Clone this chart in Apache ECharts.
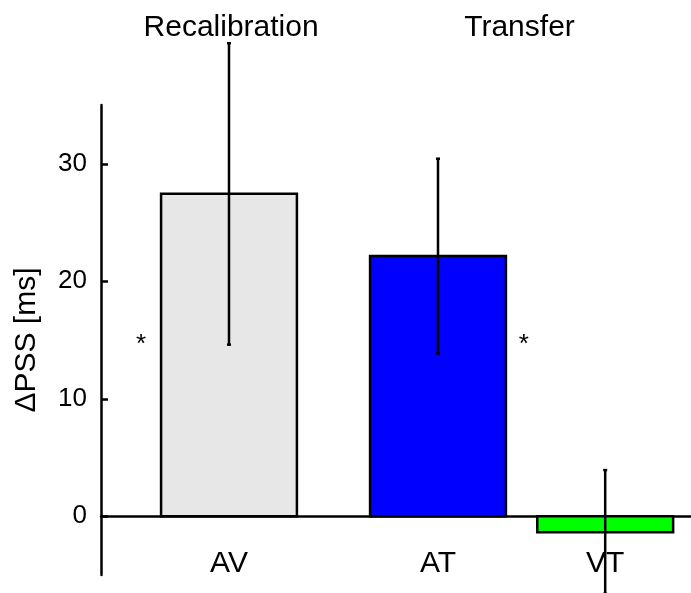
<!DOCTYPE html>
<html><head><meta charset="utf-8">
<script src="https://cdn.jsdelivr.net/npm/echarts@6/dist/echarts.min.js"></script>
<style>html,body{margin:0;padding:0;background:#fff}#c{width:691px;height:593px}</style>
</head><body><div id="c"></div>
<script>
const categories = ['AV', 'AT', 'VT'];
const positions = [1, 2, 2.8];
const means = [27.44, 22.14, -1.37];
const errLow = [14.6, 13.85, -6.6];
const errHigh = [40.26, 30.43, 3.93];
const yTicks = [0, 10, 20, 30];
const groupTitles = ['Recalibration', 'Transfer'];
const groupTitleX = [1.01, 2.39];
const groupTitleY = [41.6, 41.6];
const starX = [0.579, 2.411];
const starY = [15, 15];
const labelY = -4.0;

const barColors = ['#E6E7E6', '#0000FF', '#00FF00'];
const FONT = "'Liberation Sans', Arial, Helvetica, sans-serif";
const barWidth = 0.65;

const chart = echarts.init(document.getElementById('c'), null, {renderer: 'canvas'});

const barData = categories.map((c, i) => [positions[i], means[i], i]);
const errData = categories.map((c, i) => [positions[i], errLow[i], errHigh[i]]);
const labelData = categories.map((c, i) => [positions[i], labelY, c]);
const titleData = groupTitles.map((t, i) => [groupTitleX[i], groupTitleY[i], t]);
const starData = starX.map((x, i) => [x, starY[i], '*']);

const textSeries = (data, size, dy) => ({
  type: 'custom', clip: false, silent: true, z: 5,
  data: data,
  renderItem: (params, api) => {
    const p = api.coord([api.value(0), api.value(1)]);
    return {
      type: 'text',
      style: {
        x: p[0], y: p[1] + (dy || 0),
        text: data[params.dataIndex][2],
        fill: '#000', font: size + 'px ' + FONT,
        align: 'center', verticalAlign: 'middle'
      }
    };
  }
});

chart.setOption({
  animation: false,
  backgroundColor: '#fff',
  grid: {left: 101, right: 0, top: 105, bottom: 18},
  xAxis: {
    type: 'value', min: 0.3876, max: 3.2105,
    axisLine: {show: true, onZero: true, lineStyle: {color: '#000', width: 2.5}},
    axisTick: {show: false}, axisLabel: {show: false}, splitLine: {show: false}
  },
  yAxis: {
    type: 'value', min: -5, max: 35,
    name: 'ΔPSS [ms]', nameLocation: 'middle', nameGap: 59,
    nameTextStyle: {fontFamily: FONT, fontSize: 30, color: '#000'},
    axisLine: {show: true, onZero: false, lineStyle: {color: '#000', width: 2.5}},
    axisTick: {show: true, inside: true, length: 7, customValues: yTicks, lineStyle: {color: '#000', width: 2.5}},
    axisLabel: {show: true, customValues: yTicks, margin: 14, fontFamily: FONT, fontSize: 26, color: '#000'},
    splitLine: {show: false}
  },
  series: [
    {
      type: 'custom', clip: false, z: 2,
      data: barData,
      renderItem: (params, api) => {
        const x = api.value(0), v = api.value(1);
        const p1 = api.coord([x - barWidth / 2, Math.max(v, 0)]);
        const p2 = api.coord([x + barWidth / 2, Math.min(v, 0)]);
        return {
          type: 'rect',
          shape: {x: p1[0], y: p1[1], width: p2[0] - p1[0], height: p2[1] - p1[1]},
          style: {fill: barColors[params.dataIndex], stroke: '#000', lineWidth: 2.5}
        };
      }
    },
    {
      type: 'custom', clip: false, z: 4,
      data: errData,
      renderItem: (params, api) => {
        const x = api.value(0);
        const lo = api.coord([x, api.value(1)]);
        const hi = api.coord([x, api.value(2)]);
        const cw = 2;
        const st = {stroke: '#000', lineWidth: 2.5};
        return {
          type: 'group',
          children: [
            {type: 'line', shape: {x1: lo[0], y1: lo[1], x2: hi[0], y2: hi[1]}, style: st},
            {type: 'line', shape: {x1: lo[0] - cw, y1: lo[1], x2: lo[0] + cw, y2: lo[1]}, style: st},
            {type: 'line', shape: {x1: hi[0] - cw, y1: hi[1], x2: hi[0] + cw, y2: hi[1]}, style: st}
          ]
        };
      }
    },
    textSeries(labelData, 30),
    textSeries(titleData, 30),
    textSeries(starData, 26, 5)
  ]
});
</script></body></html>
